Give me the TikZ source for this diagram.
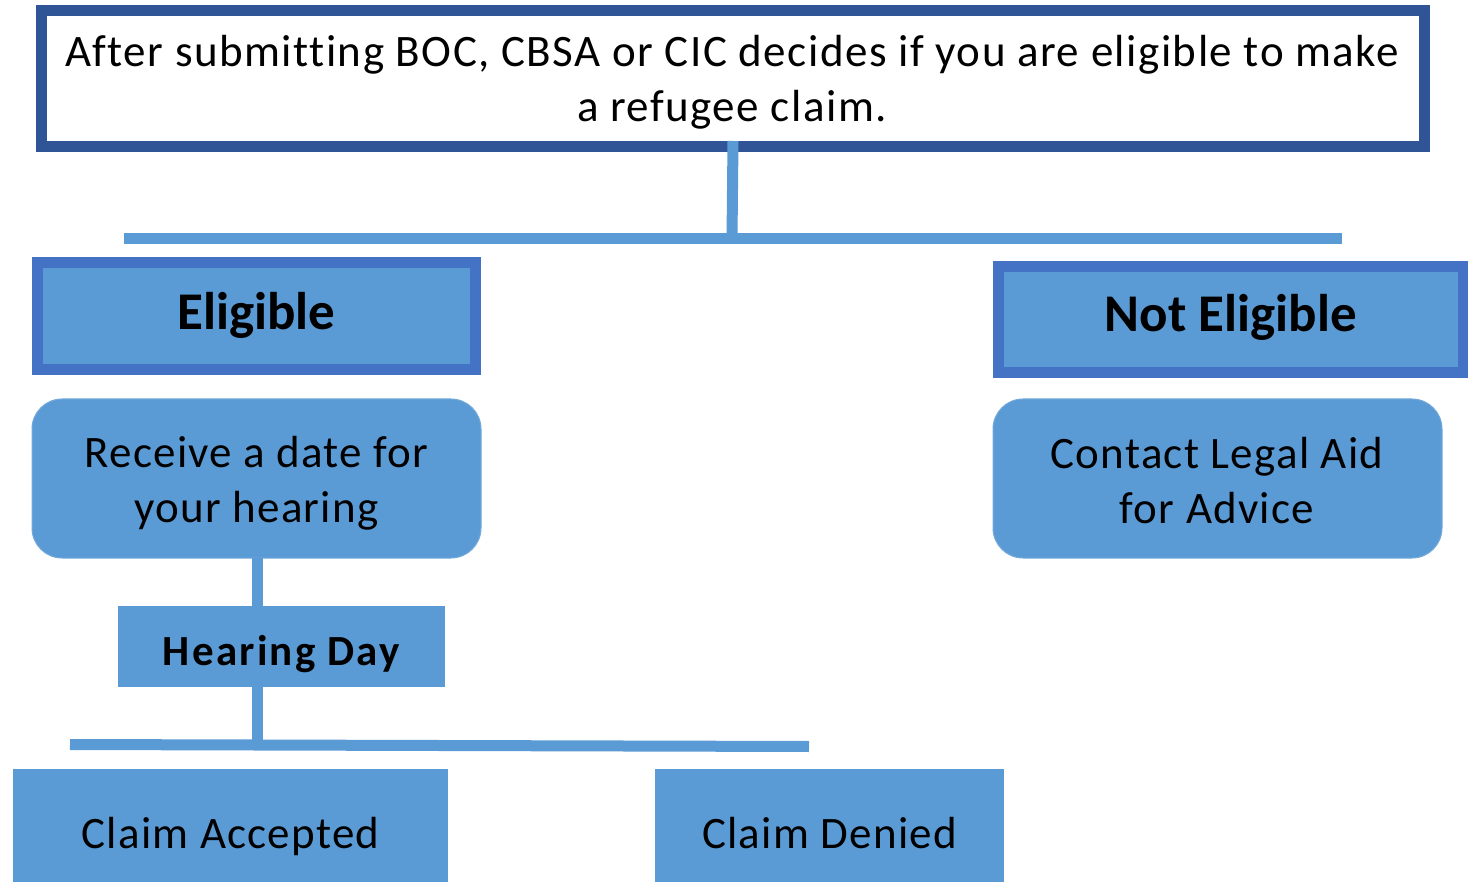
\documentclass[tikz,border=0pt]{standalone}
\usepackage{fontspec}
\setmainfont{Carlito}[Ligatures=NoCommon]
\newfontfamily\spaced[LetterSpace=2.8,Ligatures=NoCommon]{Carlito}
\newfontfamily\spacedtop[LetterSpace=3.3,Ligatures=NoCommon]{Carlito}
\definecolor{darkblue}{HTML}{2F5597}
\definecolor{midblue}{HTML}{4472C4}
\definecolor{fillblue}{HTML}{5B9BD5}
\begin{document}
\begin{tikzpicture}[x=1pt,y=-1pt,
  topbox/.style={draw=darkblue,line width=11pt,fill=white,inner sep=0pt,outer sep=0pt},
  headbox/.style={draw=midblue,line width=11pt,fill=fillblue,inner sep=0pt,outer sep=0pt},
  roundbox/.style={draw=fillblue!85!white,line width=1pt,fill=fillblue,rounded corners=30pt,inner sep=0pt,outer sep=0pt},
  plainbox/.style={fill=fillblue,inner sep=0pt,outer sep=0pt},
  txt/.style={align=center,inner sep=0pt,font=\spaced\fontsize{45}{55}\selectfont},
  conn/.style={draw=fillblue,line width=11pt},
]
\useasboundingbox (0,0) rectangle (1468,882);
% boxes
\node[topbox,minimum width=1383pt,minimum height=135.5pt] (top) at (733,78.75) {};
\node[txt,font=\spacedtop\fontsize{45}{55}\selectfont] (toptxt) at (732,82) {After submitting BOC, CBSA or CIC decides if you are eligible to make\\a refugee claim.};
\node[headbox,minimum width=438.5pt,minimum height=107pt,font=\bfseries\fontsize{53}{60}\selectfont,text height=28pt,text depth=0pt] (elig) at (256.25,316) {Eligible};
\node[headbox,minimum width=464.5pt,minimum height=106.5pt,font=\bfseries\fontsize{53}{60}\selectfont,text height=24pt,text depth=0pt] (nelig) at (1230.75,319.75) {Not Eligible};
\node[roundbox,minimum width=449pt,minimum height=159pt] (recv) at (256.5,478.5) {};
\node[txt] (recvtxt) at (256.5,483) {Receive a date for\\your hearing};
\node[roundbox,minimum width=449pt,minimum height=159pt] (cont) at (1217.5,478.5) {};
\node[txt] (conttxt) at (1217,481) {Contact Legal Aid\\for Advice};
\node[plainbox,minimum width=327pt,minimum height=81pt,font=\bfseries\fontsize{43}{50}\selectfont\addfontfeature{LetterSpace=5.2},text height=37pt,text depth=0pt] (hear) at (281.5,646.5) {Hearing Day};
\node[plainbox,minimum width=435pt,minimum height=113pt,font=\spaced\fontsize{45}{55}\selectfont,text height=45pt,text depth=0pt] (acc) at (230.5,825.5) {Claim Accepted};
\node[plainbox,minimum width=349pt,minimum height=113pt,font=\spaced\fontsize{45}{55}\selectfont,text height=45pt,text depth=0pt] (den) at (829.5,825.5) {Claim Denied};
% connector coordinates
\coordinate (barL) at (124,238.8);
\coordinate (barR) at (1342,238.8);
\coordinate (barM) at (732,238.8);
\coordinate (bar2L) at (70,744.5);
\coordinate (bar2R) at (809,746.5);
\coordinate (bar2M) at (257,745);
% connectors
\draw[conn] (733,141) -- (barM);
\draw[conn] (barL) -- (barR);
\draw[conn] (recv.south -| 257,0) -- (hear.north -| 257,0);
\draw[conn] (hear.south -| 257,0) -- (bar2M);
\draw[conn] (bar2L) -- (bar2R);
\end{tikzpicture}
\end{document}
